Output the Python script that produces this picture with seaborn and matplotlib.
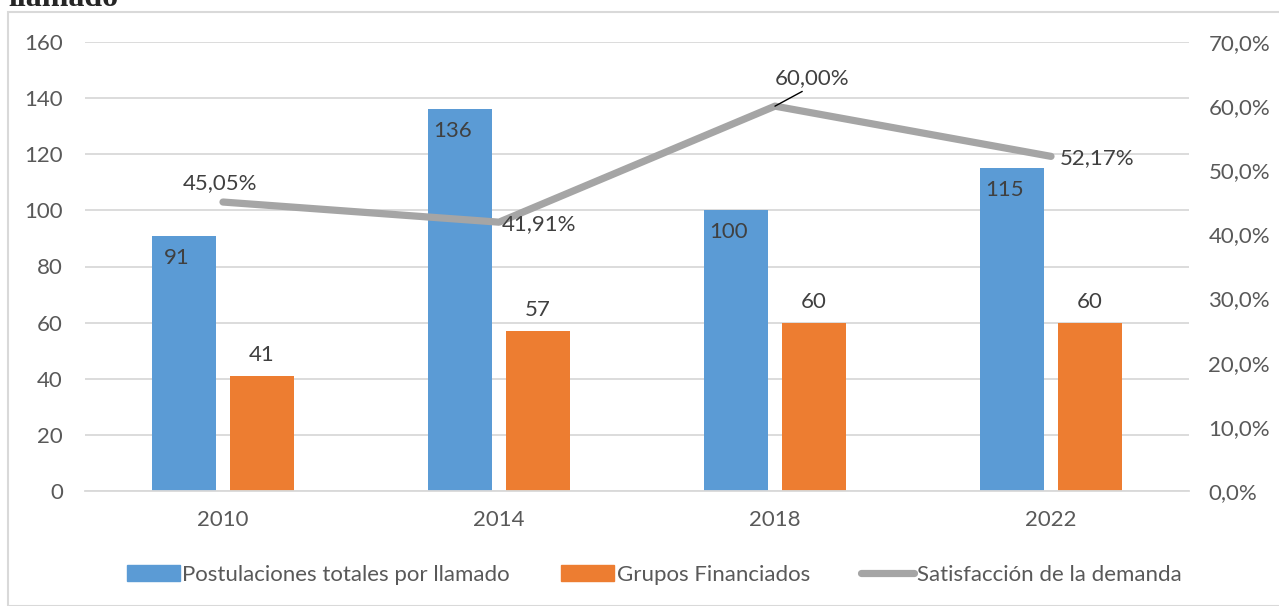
import numpy as np
import pandas as pd
import matplotlib
matplotlib.use("Agg")
import matplotlib.pyplot as plt
from matplotlib.patches import Rectangle
from matplotlib.lines import Line2D
from matplotlib.ticker import FuncFormatter
import seaborn as sns

# data
years = ["2010", "2014", "2018", "2022"]
postulaciones = [91, 136, 100, 115]
financiados = [41, 57, 60, 60]
satisfaccion = [45.05, 41.91, 60.00, 52.17]

series_names = ["Postulaciones totales por llamado", "Grupos Financiados", "Satisfacción de la demanda"]
colors = ["#5b9bd5", "#ed7d31", "#a5a5a5"]
text_color = "#404040"
tick_color = "#595959"
grid_color = "#d9d9d9"
fs = 16

sns.set_theme(style="white")
plt.rcParams["font.family"] = ["Lato", "DejaVu Sans"]

df = pd.DataFrame({
    "year": years * 2,
    "value": postulaciones + financiados,
    "serie": [series_names[0]] * len(years) + [series_names[1]] * len(years),
})

fig = plt.figure(figsize=(12.79, 6.06), dpi=100)
ax = fig.add_axes([85 / 1279, 115 / 606, 1104 / 1279, 449 / 606])

sns.barplot(data=df, x="year", y="value", hue="serie", palette=colors[:2],
            width=0.565, gap=0.19, dodge=True, ax=ax, legend=False,
            saturation=1, linewidth=0)

ax.set_xlim(-0.5, len(years) - 0.5)
ax.set_ylim(0, 160)
ax.set_yticks(range(0, 161, 20))
ax.set_xlabel("")
ax.set_ylabel("")
ax.yaxis.grid(True, color=grid_color, linewidth=1.3)
ax.set_axisbelow(True)
for side in ["top", "left", "right"]:
    ax.spines[side].set_visible(False)
ax.spines["bottom"].set_color(grid_color)
ax.spines["bottom"].set_linewidth(1.3)
ax.tick_params(axis="y", length=0, pad=16, labelsize=fs, labelcolor=tick_color)
ax.tick_params(axis="x", which="major", length=0, pad=14, labelsize=fs, labelcolor=tick_color)
ax.set_xticks(np.arange(-0.5, len(years)), minor=True)
ax.tick_params(axis="x", which="minor", length=6, width=1.3, color=grid_color)

# bar labels
blue_bars, orange_bars = ax.containers[0], ax.containers[1]
for bar, v in zip(blue_bars, postulaciones):
    ax.annotate(str(v), (bar.get_x() + bar.get_width() / 2, v),
                xytext=(-7, -22), textcoords="offset pixels",
                ha="center", va="center", fontsize=fs, color=text_color)
for bar, v in zip(orange_bars, financiados):
    ax.annotate(str(v), (bar.get_x() + bar.get_width() / 2, v),
                xytext=(0, 21), textcoords="offset pixels",
                ha="center", va="center", fontsize=fs, color=text_color)

# line on secondary axis
ax2 = ax.twinx()
pos = np.arange(len(years))
sat = np.array(satisfaccion) / 100
sns.lineplot(x=pos, y=sat, ax=ax2, color=colors[2], linewidth=5.2,
             solid_capstyle="round", solid_joinstyle="round")
ax2.set_ylim(0, 0.7)
ax2.set_yticks(np.arange(0, 0.71, 0.1))
ax2.yaxis.set_major_formatter(FuncFormatter(lambda v, _: f"{v * 100:.1f}%".replace(".", ",")))
ax2.tick_params(axis="y", length=0, pad=14, labelsize=fs, labelcolor=tick_color)
for side in ["top", "left", "right", "bottom"]:
    ax2.spines[side].set_visible(False)
ax2.set_xlim(-0.5, len(years) - 0.5)

offsets = [(-3, 19, False), (40, -2, False), (37, 28, True), (46, -2, False)]
for x, y, v, (dx, dy, leader) in zip(pos, sat, satisfaccion, offsets):
    label = f"{v:.2f}%".replace(".", ",")
    arrow = None
    if leader:
        arrow = dict(arrowstyle="-", color="black", lw=1, relpos=(0.45, 0.0),
                     shrinkA=0, shrinkB=0)
    ax2.annotate(label, (x, y), xytext=(dx, dy), textcoords="offset pixels",
                 ha="center", va="center", fontsize=fs, color=text_color,
                 arrowprops=arrow)

# legend
handles = [
    Rectangle((0, 0), 1, 1, color=colors[0]),
    Rectangle((0, 0), 1, 1, color=colors[1]),
    Line2D([0], [0], color=colors[2], linewidth=5.2, solid_capstyle="round"),
]
fig.legend(handles, series_names, loc="center", bbox_to_anchor=(654 / 1279, 1 - 575 / 606),
           ncol=3, frameon=False, fontsize=fs, labelcolor=tick_color,
           handlelength=2.4, handleheight=0.7, handletextpad=0.1, columnspacing=2.3)

# chart frame and cut-off title
fig.patches.append(Rectangle((8 / 1279, 0), 1.2, 1 - 12 / 606, transform=fig.transFigure,
                             fill=False, edgecolor=grid_color, linewidth=1.5))
fig.text(8 / 1279, 1 - 6 / 606, "llamado", ha="left", va="baseline",
         fontsize=23, fontweight="bold", family=["Liberation Serif", "DejaVu Serif"])

fig.savefig("out.png", dpi=100)
